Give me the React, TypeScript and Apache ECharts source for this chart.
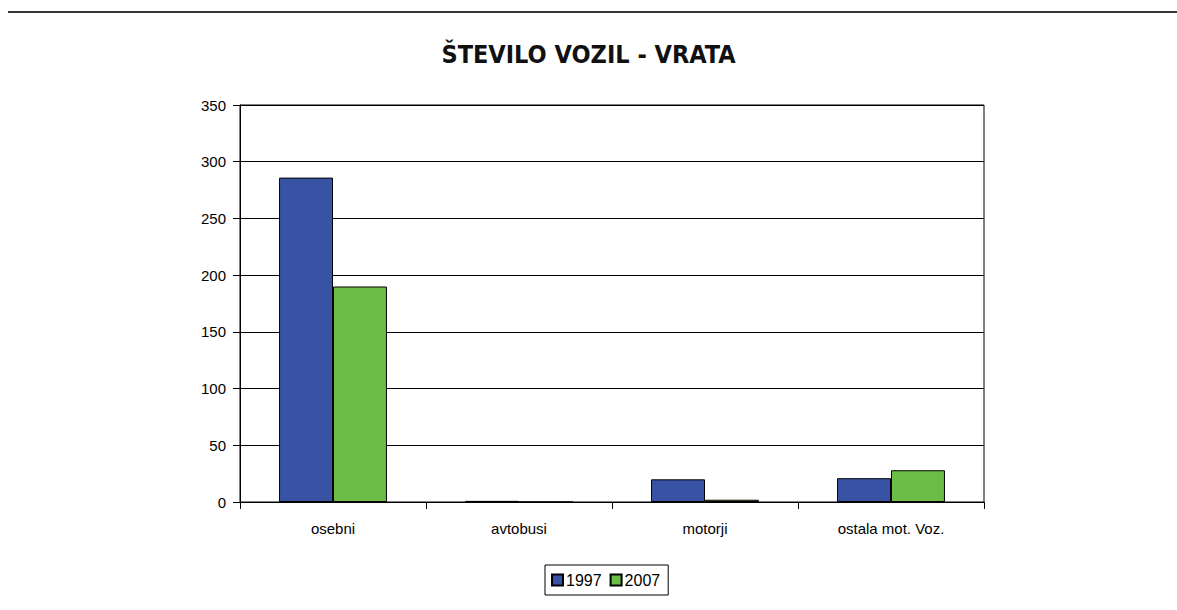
import React, { useEffect, useRef } from "react";
import * as echarts from "echarts";

const categories = ["osebni", "avtobusi", "motorji", "ostala mot. Voz."];
const seriesNames = ["1997", "2007"];
const values1997 = [286, 1, 20, 21];
const values2007 = [190, 0, 2, 28];
const yTicks = { min: 0, max: 350, interval: 50 };

export default function App() {
  const ref = useRef<HTMLDivElement>(null);
  useEffect(() => {
    const chart = echarts.init(ref.current!, null, { renderer: "svg" });
    chart.setOption({
      animation: false,
      backgroundColor: "#ffffff",
      title: {
        text: "ŠTEVILO VOZIL - VRATA",
        left: "center",
        top: 37,
        textStyle: {
          fontFamily: "'DejaVu Sans Condensed', 'Liberation Sans', sans-serif",
          fontWeight: 600,
          fontSize: 25,
          color: "#111",
        },
      },
      graphic: [
        {
          type: "line",
          shape: { x1: 8, y1: 12, x2: 1177, y2: 12 },
          style: { stroke: "#333", lineWidth: 2 },
        },
      ],
      grid: {
        left: 240,
        right: 193,
        top: 105,
        bottom: 108,
        show: true,
        borderColor: "#000",
        borderWidth: 1,
      },
      legend: {
        left: 545,
        top: 565,
        data: seriesNames,
        icon: "rect",
        itemWidth: 11,
        itemHeight: 11,
        itemGap: 8,
        borderColor: "#000",
        borderWidth: 1,
        padding: [7, 8, 7, 6],
        textStyle: { fontFamily: "Liberation Sans", fontSize: 16, color: "#000", padding: [0, 0, 0, -2] },
      },
      xAxis: {
        type: "category",
        data: categories,
        axisLine: { lineStyle: { color: "#000" } },
        axisTick: { show: true, alignWithLabel: false, length: 7, lineStyle: { color: "#000" } },
        axisLabel: {
          fontFamily: "Liberation Sans",
          fontSize: 15,
          color: "#000",
          margin: 19,
        },
      },
      yAxis: {
        type: "value",
        min: yTicks.min,
        max: yTicks.max,
        interval: yTicks.interval,
        axisLine: { show: true, lineStyle: { color: "#000" } },
        axisTick: { show: true, length: 7, lineStyle: { color: "#000" } },
        splitLine: { lineStyle: { color: "#000", width: 1 } },
        axisLabel: {
          fontFamily: "Liberation Sans",
          fontSize: 15,
          color: "#000",
          margin: 14,
        },
      },
      series: [
        {
          name: seriesNames[0],
          type: "bar",
          data: values1997,
          barGap: "0%",
          barCategoryGap: "42%",
          itemStyle: { color: "#3953A4", borderColor: "#000", borderWidth: 1 },
        },
        {
          name: seriesNames[1],
          type: "bar",
          data: values2007,
          itemStyle: { color: "#6BBE45", borderColor: "#000", borderWidth: 1 },
        },
      ],
    });
    return () => chart.dispose();
  }, []);
  return (
    <div
      ref={ref}
      style={{ position: "fixed", left: 0, top: 0, width: 1177, height: 610 }}
    />
  );
}
